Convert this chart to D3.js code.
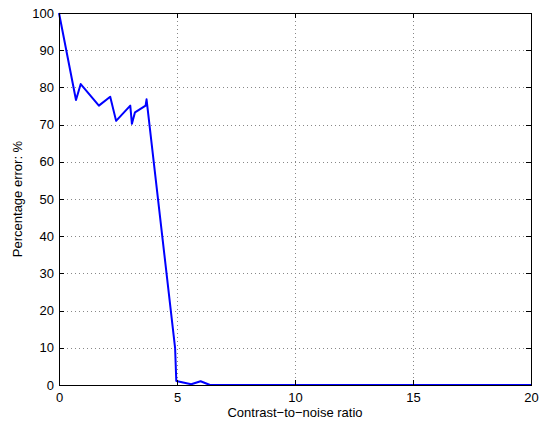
<!DOCTYPE html>
<html>
<head>
<meta charset="utf-8">
<script src="https://cdn.jsdelivr.net/npm/d3@7"></script>
<style>
  html, body { margin: 0; padding: 0; background: #fff; }
  svg { display: block; }
  text { font-family: "Liberation Sans", Arial, sans-serif; fill: #000; }
</style>
</head>
<body>
<div id="chart"></div>
<script>
// Contrast-to-noise ratio vs. percentage error
const cnr = [0, 0.72, 0.92, 1.69, 2.17, 2.42, 3.02, 3.09, 3.22, 3.67, 3.71, 4.92, 4.97, 5.6, 6.0, 6.4, 8, 10, 12, 14, 16, 18, 20];
const errorPct = [100, 76.6, 80.9, 75.1, 77.5, 71.0, 75.1, 70.2, 73.3, 75.1, 76.8, 9.9, 1.1, 0.2, 1.0, 0, 0, 0, 0, 0, 0, 0, 0];
const xTicks = [0, 5, 10, 15, 20];
const yTicks = [0, 10, 20, 30, 40, 50, 60, 70, 80, 90, 100];
const xLabel = "Contrast\u2212to\u2212noise ratio";
const yLabel = "Percentage error: %";

const W = 542, H = 427;
const m = { left: 59, right: 11, top: 13, bottom: 42 };
const iw = W - m.left - m.right, ih = H - m.top - m.bottom;

const svg = d3.select("#chart").append("svg").attr("width", W).attr("height", H);
const g = svg.append("g").attr("transform", `translate(${m.left},${m.top})`);

const x = d3.scaleLinear().domain([0, 20]).range([0, iw]);
const y = d3.scaleLinear().domain([0, 100]).range([ih, 0]);

// dotted grid
const grid = g.append("g").attr("stroke", "#888").attr("stroke-width", 1)
  .attr("stroke-dasharray", "1,3").attr("shape-rendering", "crispEdges");
grid.selectAll(".gx").data(xTicks.slice(1, -1)).join("line")
  .attr("x1", d => Math.round(x(d)) + 0.5).attr("x2", d => Math.round(x(d)) + 0.5)
  .attr("y1", 0).attr("y2", ih);
grid.selectAll(".gy").data(yTicks.slice(1, -1)).join("line")
  .attr("y1", d => Math.round(y(d)) + 0.5).attr("y2", d => Math.round(y(d)) + 0.5)
  .attr("x1", 0).attr("x2", iw);

// data line
const line = d3.line().x((d, i) => x(cnr[i])).y(d => y(d));
g.append("path").datum(errorPct).attr("d", line)
  .attr("fill", "none").attr("stroke", "#0000ff").attr("stroke-width", 2)
  .attr("stroke-linejoin", "round");

// axes with inward ticks on all sides
const fontSize = 13;
const ax = (axis, tr) => {
  const a = g.append("g").attr("transform", tr).call(axis);
  a.select(".domain").remove();
  a.selectAll("line").attr("stroke", "#000").attr("shape-rendering", "crispEdges");
  a.selectAll("text").attr("font-size", fontSize).attr("font-family", "Liberation Sans, Arial, sans-serif");
  return a;
};
ax(d3.axisBottom(x).tickValues(xTicks).tickSizeInner(-5).tickSizeOuter(0).tickPadding(8), `translate(0,${ih})`);
ax(d3.axisLeft(y).tickValues(yTicks).tickSizeInner(-5).tickSizeOuter(0).tickPadding(5), null);
ax(d3.axisTop(x).tickValues(xTicks).tickSizeInner(-5).tickSizeOuter(0).tickFormat(""), null);
ax(d3.axisRight(y).tickValues(yTicks).tickSizeInner(-5).tickSizeOuter(0).tickFormat(""), `translate(${iw},0)`);

// frame
g.append("rect").attr("x", 0.5).attr("y", 0.5).attr("width", iw).attr("height", ih)
  .attr("fill", "none").attr("stroke", "#000").attr("stroke-width", 1)
  .attr("shape-rendering", "crispEdges");

// axis labels
svg.append("text").attr("x", m.left + iw / 2).attr("y", 417)
  .attr("text-anchor", "middle").attr("font-size", fontSize).text(xLabel);
svg.append("text").attr("transform", `translate(22,${m.top + ih / 2}) rotate(-90)`)
  .attr("text-anchor", "middle").attr("font-size", fontSize).text(yLabel);
</script>
</body>
</html>
